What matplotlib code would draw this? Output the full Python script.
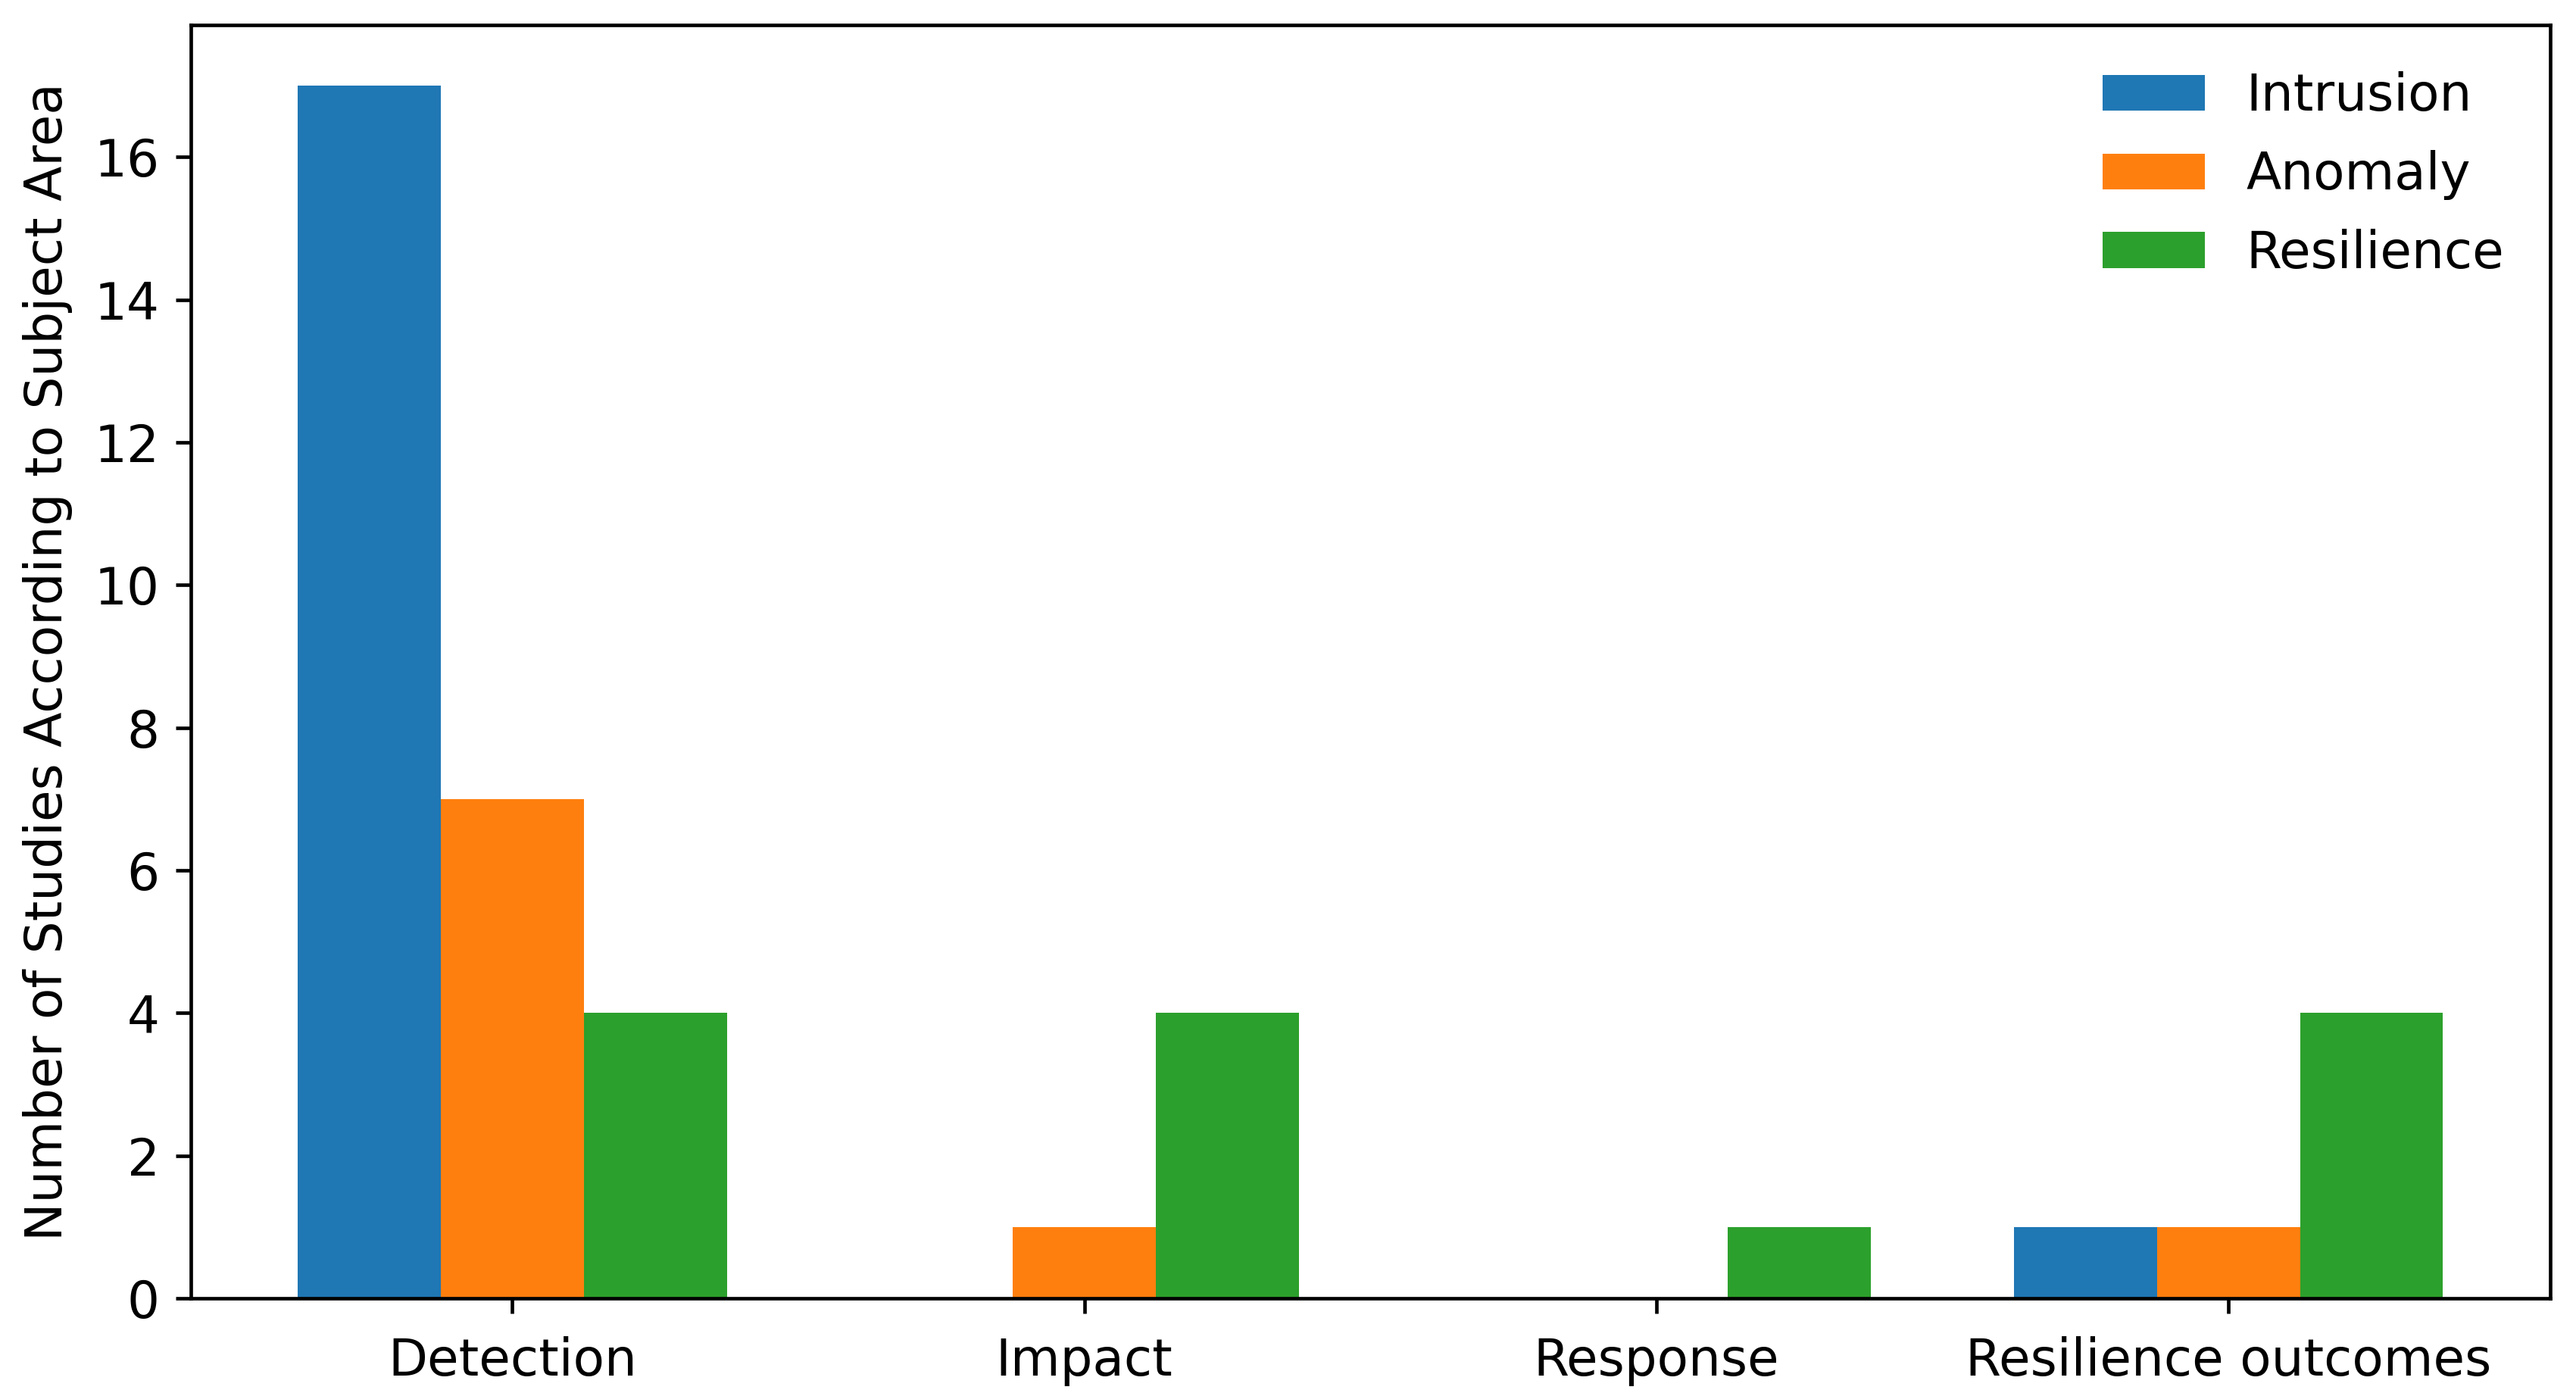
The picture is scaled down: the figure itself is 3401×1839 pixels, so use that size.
import numpy as np
import matplotlib
matplotlib.use("Agg")
import matplotlib.pyplot as plt

categories = ["Detection", "Impact", "Response", "Resilience outcomes"]
intrusion = [17, 0, 0, 1]
anomaly = [7, 1, 0, 1]
resilience = [4, 4, 1, 4]

plt.rcParams["font.size"] = 11.6

fig, ax = plt.subplots(figsize=(3401 / 420, 1839 / 420), dpi=420)
x = np.arange(len(categories))
w = 0.25
ax.bar(x - w, intrusion, width=w, label="Intrusion", color="C0")
ax.bar(x, anomaly, width=w, label="Anomaly", color="C1")
ax.bar(x + w, resilience, width=w, label="Resilience", color="C2")

ax.set_xticks(x)
ax.set_xticklabels(categories)
ax.tick_params(axis="x", pad=5)
ax.set_ylabel("Number of Studies According to Subject Area", labelpad=5)
ax.legend(frameon=False, loc="upper right", labelspacing=0.56)

fig.subplots_adjust(left=0.074, right=0.990, top=0.982, bottom=0.068)
fig.savefig("out.png", dpi=420)
